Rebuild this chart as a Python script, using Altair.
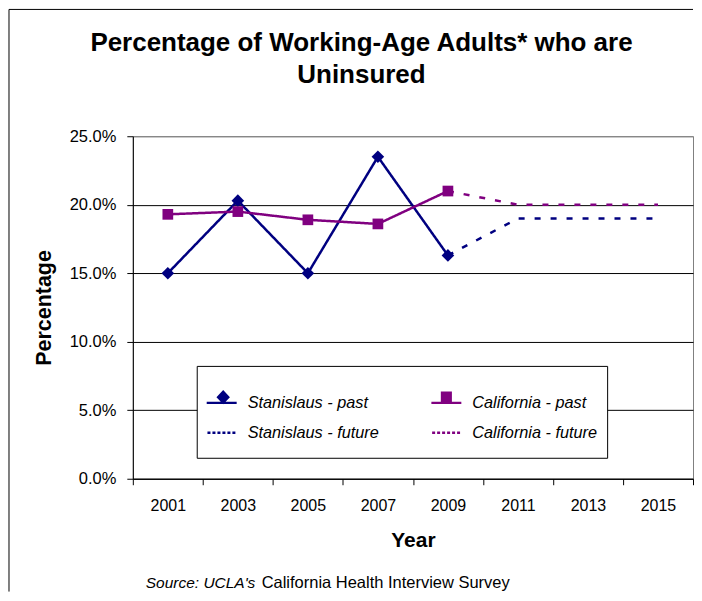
import altair as alt
import pandas as pd

# ---- data ----
years = ["2001", "2003", "2005", "2007", "2009", "2011", "2013", "2015"]
past_years = ["2001", "2003", "2005", "2007", "2009"]
future_years = ["2009", "2011", "2013", "2015"]
stanislaus_past = [0.150, 0.203, 0.150, 0.235, 0.163]
california_past = [0.193, 0.195, 0.189, 0.186, 0.210]
stanislaus_future = [0.163, 0.190, 0.190, 0.190]
california_future = [0.210, 0.200, 0.200, 0.200]
series_names = ["Stanislaus - past", "California - past",
                "Stanislaus - future", "California - future"]
y_ticks = [0.0, 0.05, 0.10, 0.15, 0.20, 0.25]
title_lines = ["Percentage of Working-Age Adults* who are", "Uninsured"]
source_italic = "Source: UCLA's"
source_plain = "California Health Interview Survey"

rows = []
for yr, v in zip(past_years, stanislaus_past):
    rows.append({"series": series_names[0], "year": yr, "value": v})
for yr, v in zip(past_years, california_past):
    rows.append({"series": series_names[1], "year": yr, "value": v})
for yr, v in zip(future_years, stanislaus_future):
    rows.append({"series": series_names[2], "year": yr, "value": v})
for yr, v in zip(future_years, california_future):
    rows.append({"series": series_names[3], "year": yr, "value": v})
df = pd.DataFrame(rows)

NAVY = "#000080"
PURPLE = "#800080"
FONT = "Liberation Sans"
W, H = 561, 343

color_scale = alt.Scale(domain=series_names, range=[NAVY, PURPLE, NAVY, PURPLE])

# legend symbol paths (filled shapes: line bar + marker / dotted bar);
# zero-area corners keep every entry a full square box
frame = "M-1,-1L-1,-1ZM1,1L1,1Z"
bar = "M-1,-0.08H1V0.08H-1Z"
diamond_sym = frame + bar + "M0.1,-0.85L0.55,-0.38L0.1,0.09L-0.35,-0.38Z"
square_sym = frame + bar + "M-0.37,-0.75H0.37V0H-0.37Z"
dots = frame + "".join(
    f"M{-0.95 + k * 0.333:.3f},-0.08h0.2v0.16h-0.2Z" for k in range(6)
)
shape_scale = alt.Scale(domain=series_names,
                        range=[diamond_sym, square_sym, dots, dots])

x_enc = alt.X(
    "year:O",
    scale=alt.Scale(type="band", domain=years, paddingInner=0, paddingOuter=0),
    axis=alt.Axis(
        title="Year", tickBand="extent", labelAngle=0, grid=False,
        domainColor="black", tickColor="black", tickSize=6,
        labelFontSize=16, labelColor="black", labelPadding=13,
        titleFontSize=21, titleFontWeight="bold", titleColor="black",
        titlePadding=16,
    ),
)
y_enc = alt.Y(
    "value:Q",
    scale=alt.Scale(domain=[0, 0.25], nice=False),
    axis=alt.Axis(
        title="Percentage", values=y_ticks, format=".1%",
        domainColor="black", tickColor="black", tickSize=6,
        labelFontSize=16.5, labelColor="black", labelPadding=11,
        gridColor={"condition": {"test": "datum.value > 0.24", "value": "#808080"},
                   "value": "black"},
        gridWidth=1,
        titleFontSize=21.5, titleFontWeight="bold", titleColor="black",
        titlePadding=14,
    ),
)

base = alt.Chart(df)

legend_layer = base.transform_filter("false").mark_point(
    filled=True, opacity=1, strokeWidth=0, size=900
).encode(
    x=x_enc, y=y_enc,
    color=alt.Color("series:N", scale=color_scale, legend=alt.Legend(
        title=" ", titleFontSize=8, titlePadding=4,
        orient="none", legendX=64, legendY=230, columns=2,
        direction="horizontal",
        columnPadding=52, rowPadding=0, padding=10,
        fillColor="white", strokeColor="black",
        symbolSize=900, symbolStrokeWidth=0, symbolOpacity=1,
        labelFont=FONT, labelFontSize=16.3, labelFontStyle="italic",
        labelColor="black", labelOffset=11, labelLimit=0,
    )),
    shape=alt.Shape("series:N", scale=shape_scale),
)

lines = base.mark_line(strokeWidth=2.5).encode(
    x=x_enc, y=y_enc,
    color=alt.Color("series:N", scale=color_scale, legend=None),
    strokeDash=alt.StrokeDash(
        "series:N",
        scale=alt.Scale(domain=series_names, range=[[1, 0], [1, 0], [6, 10], [6, 10]]),
        legend=None,
    ),
)

stan_pts = base.transform_filter(alt.datum.series == series_names[0]).mark_point(
    shape="diamond", filled=True, size=160, opacity=1
).encode(x=x_enc, y=y_enc,
         color=alt.Color("series:N", scale=color_scale, legend=None))

cal_pts = base.transform_filter(alt.datum.series == series_names[1]).mark_square(
    size=115, opacity=1
).encode(x=x_enc, y=y_enc,
         color=alt.Color("series:N", scale=color_scale, legend=None))

one = alt.Data(values=[{"a": 1}])
left_border = alt.Chart(one).mark_rule(color="black", strokeWidth=1).encode(
    x=alt.value(-124), y=alt.value(-127), y2=alt.value(456))
top_border = alt.Chart(one).mark_rule(color="black", strokeWidth=1).encode(
    x=alt.value(-124), x2=alt.value(W), y=alt.value(-127))

title_text = alt.Chart(one).mark_text(
    text=title_lines, font=FONT, fontSize=26, fontWeight="bold",
    align="center", baseline="alphabetic", lineHeight=32, color="black"
).encode(x=alt.value(229), y=alt.value(-85))

src1 = alt.Chart(one).mark_text(
    text=source_italic, font=FONT, fontSize=15.5, fontStyle="italic",
    align="left", baseline="alphabetic", color="black"
).encode(x=alt.value(13), y=alt.value(452))
src2 = alt.Chart(one).mark_text(
    text=source_plain, font=FONT, fontSize=16.5,
    align="left", baseline="alphabetic", color="black"
).encode(x=alt.value(129), y=alt.value(452))

chart = alt.layer(
    left_border, top_border, title_text, legend_layer, lines, stan_pts, cal_pts,
    src1, src2
).properties(
    width=W, height=H, padding=0,
).configure(
    font=FONT,
).configure_view(
    stroke="#808080", strokeWidth=1,
).configure_axis(
    labelFont=FONT, titleFont=FONT,
)

chart.save("out.html", embed_options={"renderer": "svg", "actions": False})
